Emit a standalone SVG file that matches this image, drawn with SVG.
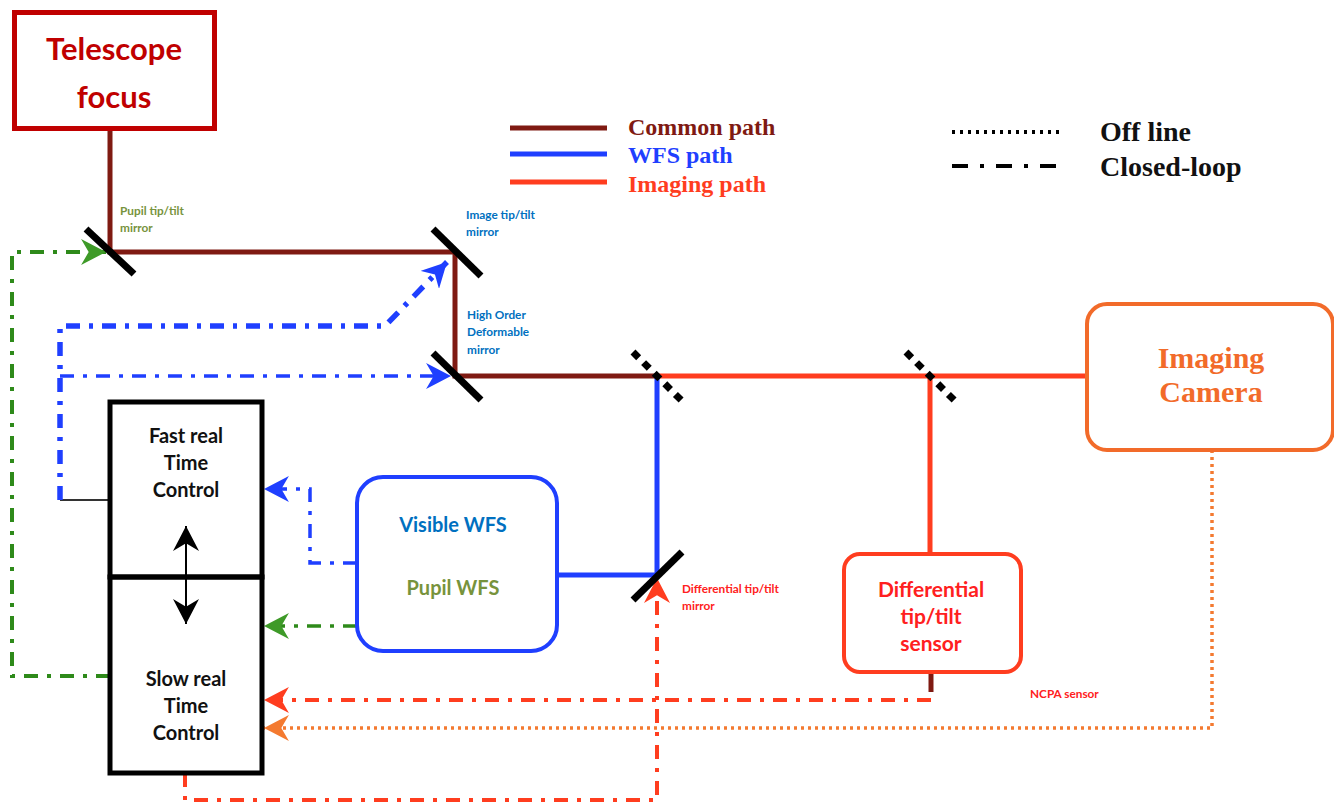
<svg xmlns="http://www.w3.org/2000/svg" width="1334" height="804" viewBox="0 0 1334 804">
<style>
.cal{font-family:Lato,"Open Sans","Liberation Sans",sans-serif;font-weight:bold}
.ser{font-family:"Liberation Serif","DejaVu Serif",serif;font-weight:bold}
.common{stroke:#7F1A12;stroke-width:5;fill:none}
.wfs{stroke:#1F3FFF;stroke-width:5;fill:none}
.img{stroke:#FF3D1F;stroke-width:5;fill:none}
.mirror{stroke:#000;stroke-width:7;fill:none}
.bs{stroke:#000;stroke-width:7;fill:none;stroke-dasharray:8 7}
.dd{stroke-dasharray:14 9 4 9;fill:none}
.small{font-size:11.8px}
</style>
<defs>
<marker id="aG" markerUnits="userSpaceOnUse" markerWidth="26" markerHeight="26" refX="23" refY="12" orient="auto" viewBox="0 0 24 24"><path d="M23,12 L0,0 L7,12 L0,24 z" fill="#3E9A28"/></marker>
<marker id="aB" markerUnits="userSpaceOnUse" markerWidth="26" markerHeight="26" refX="23" refY="12" orient="auto" viewBox="0 0 24 24"><path d="M23,12 L0,0 L7,12 L0,24 z" fill="#1F3FFF"/></marker>
<marker id="aR" markerUnits="userSpaceOnUse" markerWidth="26" markerHeight="26" refX="23" refY="12" orient="auto" viewBox="0 0 24 24"><path d="M23,12 L0,0 L7,12 L0,24 z" fill="#FF3D1F"/></marker>
<marker id="aO" markerUnits="userSpaceOnUse" markerWidth="26" markerHeight="26" refX="23" refY="12" orient="auto" viewBox="0 0 24 24"><path d="M23,12 L0,0 L7,12 L0,24 z" fill="#F47A30"/></marker>
<marker id="aK" markerUnits="userSpaceOnUse" markerWidth="26" markerHeight="26" refX="23" refY="12" orient="auto" viewBox="0 0 24 24"><path d="M23,12 L0,0 L7,12 L0,24 z" fill="#000"/></marker>
</defs>
<rect width="1334" height="804" fill="#fff"/>

<g id="legend">
<line x1="510" y1="128" x2="607" y2="128" class="common" stroke-width="6"/>
<line x1="510" y1="154" x2="607" y2="154" class="wfs" stroke-width="6"/>
<line x1="510" y1="182" x2="607" y2="182" class="img" stroke-width="6"/>
<text x="628" y="135" class="ser" font-size="24" fill="#7F1A12">Common path</text>
<text x="628" y="163" class="ser" font-size="24" fill="#1F3FFF">WFS path</text>
<text x="628" y="192" class="ser" font-size="24" fill="#FF3D1F">Imaging path</text>
<line x1="952" y1="132" x2="1062" y2="132" stroke="#000" stroke-width="4" stroke-dasharray="3 5"/>
<line x1="952" y1="166" x2="1060" y2="166" stroke="#000" stroke-width="4" stroke-dasharray="16 12 4 12"/>
<text x="1100" y="141" class="ser" font-size="28" fill="#111">Off line</text>
<text x="1100" y="176" class="ser" font-size="28" fill="#111">Closed-loop</text>
</g>

<g id="connectors">
<path d="M110,130 V252 H455 V376 H657" class="common"/>
<path d="M657,376 H1087" class="img"/>
<path d="M657,376 V575 H557" class="wfs"/>
<path d="M930,376 V553" class="img"/>
<path d="M931,672 V692" class="common"/>
<path d="M110,676 H12 V252 H106" class="dd" stroke="#2E8A1A" stroke-width="4" marker-end="url(#aG)"/>
<line x1="110" y1="500" x2="60" y2="500" stroke="#333" stroke-width="2"/>
<path d="M60,500 V326 H385 L447,262" class="dd" stroke="#1F3FFF" stroke-width="5.5" marker-end="url(#aB)"/>
<path d="M60,376 H451" class="dd" stroke="#1F3FFF" stroke-width="3.5" marker-end="url(#aB)"/>
<path d="M357,563 H310 V489 H264" class="dd" stroke="#1F3FFF" stroke-width="3.5" marker-end="url(#aB)"/>
<path d="M357,626 H264" class="dd" stroke="#2E8A1A" stroke-width="3.5" marker-end="url(#aG)"/>
<path d="M931,700 H264" class="dd" stroke="#FF3D1F" stroke-width="4" marker-end="url(#aR)"/>
<path d="M1212,450 V728 H264" fill="none" stroke="#F47A30" stroke-width="3.5" stroke-dasharray="3 4" marker-end="url(#aO)"/>
<path d="M185,773 V800 H657 V578" class="dd" stroke="#FF3D1F" stroke-width="4" marker-end="url(#aR)"/>
<line x1="186" y1="550" x2="186" y2="526" stroke="#000" stroke-width="2" marker-end="url(#aK)"/>
<line x1="186" y1="550" x2="186" y2="624" stroke="#000" stroke-width="2" marker-end="url(#aK)"/>
</g>

<g id="telescope-focus">
<rect x="14.5" y="12.5" width="200" height="116" fill="#fff" stroke="#C00000" stroke-width="5"/>
<text x="114" y="60" class="cal" font-size="31" fill="#C00000" text-anchor="middle">Telescope</text>
<text x="114" y="108" class="cal" font-size="31" fill="#C00000" text-anchor="middle">focus</text>
</g>

<g id="pupil-tiptilt-mirror">
<line x1="86" y1="229" x2="134" y2="274" class="mirror"/>
<text x="120" y="215" class="cal small" fill="#77933C">Pupil tip/tilt</text>
<text x="120" y="232" class="cal small" fill="#77933C">mirror</text>
</g>

<g id="image-tiptilt-mirror">
<line x1="433" y1="229" x2="481" y2="276" class="mirror"/>
<text x="466" y="219" class="cal small" fill="#0070C0">Image tip/tilt</text>
<text x="466" y="236" class="cal small" fill="#0070C0">mirror</text>
</g>

<g id="ho-dm">
<line x1="433" y1="353" x2="481" y2="400" class="mirror"/>
<text x="467" y="319" class="cal small" fill="#0070C0">High Order</text>
<text x="467" y="336" class="cal small" fill="#0070C0">Deformable</text>
<text x="467" y="354" class="cal small" fill="#0070C0">mirror</text>
</g>

<g id="beamsplitter-1">
<line x1="633" y1="352" x2="683" y2="402" class="bs"/>
</g>
<g id="beamsplitter-2">
<line x1="906" y1="352" x2="956" y2="402" class="bs"/>
</g>

<g id="differential-tiptilt-mirror">
<line x1="633" y1="600" x2="682" y2="552" class="mirror"/>
<text x="682" y="593" class="cal small" fill="#FF2020">Differential tip/tilt</text>
<text x="682" y="610" class="cal small" fill="#FF2020">mirror</text>
</g>

<g id="wfs">
<rect x="357" y="477" width="200" height="174" rx="26" fill="#fff" stroke="#1F3FFF" stroke-width="4"/>
<text x="453" y="532" class="cal" font-size="20" fill="#0070C0" text-anchor="middle">Visible WFS</text>
<text x="453" y="595" class="cal" font-size="20" fill="#77933C" text-anchor="middle">Pupil WFS</text>
</g>

<g id="fast-rtc">
<rect x="110" y="402" width="152" height="175" fill="none" stroke="#000" stroke-width="5"/>
<text x="186" y="443" class="cal" font-size="20" fill="#111" text-anchor="middle">Fast real</text>
<text x="186" y="470" class="cal" font-size="20" fill="#111" text-anchor="middle">Time</text>
<text x="186" y="497" class="cal" font-size="20" fill="#111" text-anchor="middle">Control</text>
</g>

<g id="slow-rtc">
<rect x="110" y="577" width="152" height="196" fill="none" stroke="#000" stroke-width="5"/>
<text x="186" y="686" class="cal" font-size="20" fill="#111" text-anchor="middle">Slow real</text>
<text x="186" y="713" class="cal" font-size="20" fill="#111" text-anchor="middle">Time</text>
<text x="186" y="740" class="cal" font-size="20" fill="#111" text-anchor="middle">Control</text>
</g>

<g id="diff-tiptilt-sensor">
<rect x="844" y="554" width="177" height="118" rx="16" fill="#fff" stroke="#FF3D1F" stroke-width="4"/>
<text x="931" y="597" class="cal" font-size="21" fill="#FF2020" text-anchor="middle">Differential</text>
<text x="931" y="624" class="cal" font-size="21" fill="#FF2020" text-anchor="middle">tip/tilt</text>
<text x="931" y="651" class="cal" font-size="21" fill="#FF2020" text-anchor="middle">sensor</text>
<text x="1030" y="698" class="cal small" fill="#FF2020">NCPA sensor</text>
</g>

<g id="imaging-camera">
<rect x="1087" y="304" width="246" height="146" rx="20" fill="#fff" stroke="#F26B2A" stroke-width="4"/>
<text x="1211" y="368" class="ser" font-size="30" fill="#F26B2A" text-anchor="middle">Imaging</text>
<text x="1211" y="402" class="ser" font-size="30" fill="#F26B2A" text-anchor="middle">Camera</text>
</g>
</svg>
